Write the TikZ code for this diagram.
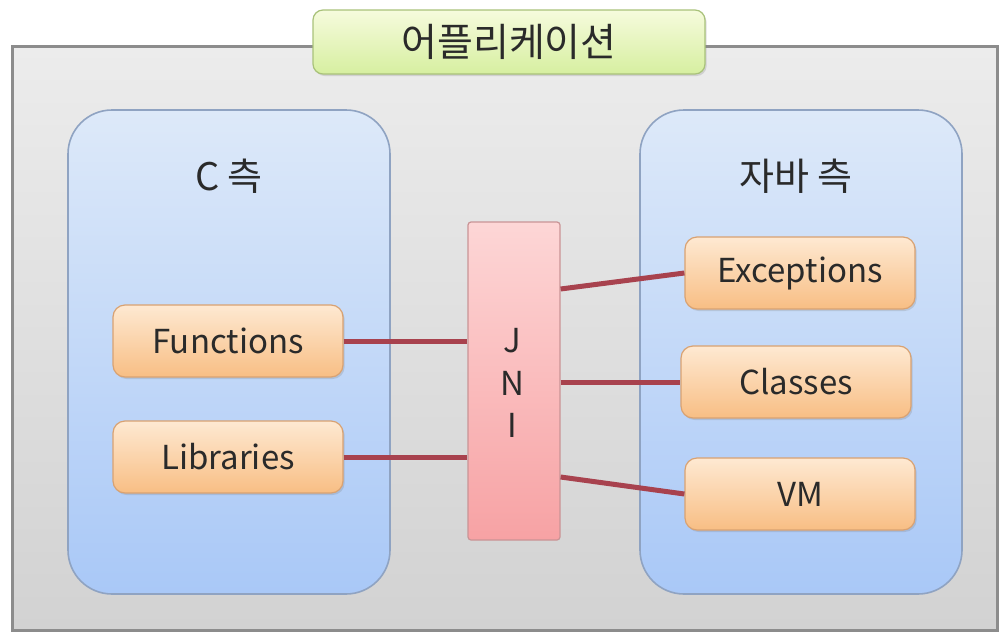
\documentclass[tikz,border=0pt]{standalone}
\usepackage{fontspec}
\setmainfont{Noto Sans CJK KR}
\usetikzlibrary{shadows,calc}
\definecolor{outerline}{HTML}{8C8C8C}
\definecolor{outertop}{HTML}{ECECEC}
\definecolor{outerbot}{HTML}{D2D2D2}
\definecolor{bluetop}{HTML}{DDE9F9}
\definecolor{bluebot}{HTML}{A9C8F7}
\definecolor{blueline}{HTML}{8FA3C2}
\definecolor{orgtop}{HTML}{FEE9D2}
\definecolor{orgbot}{HTML}{F8BE84}
\definecolor{orgline}{HTML}{D9A272}
\definecolor{pinktop}{HTML}{FDD6D6}
\definecolor{pinkbot}{HTML}{F7A2A4}
\definecolor{pinkline}{HTML}{C99496}
\definecolor{greentop}{HTML}{F6FBDD}
\definecolor{greenbot}{HTML}{D6EFA0}
\definecolor{greenline}{HTML}{A9C27A}
\definecolor{linkred}{HTML}{A8424E}
\definecolor{txt}{HTML}{2A2A2A}
\tikzset{
  outerbox/.style={draw=outerline, line width=1.5pt, top color=outertop, bottom color=outerbot},
  sidebox/.style={draw=blueline, line width=0.8pt, rounded corners=22pt, top color=bluetop, bottom color=bluebot, minimum width=161pt, minimum height=242pt, inner sep=0pt},
  itembox/.style={draw=orgline, line width=0.6pt, rounded corners=6pt, top color=orgtop, bottom color=orgbot, minimum width=115pt, minimum height=36pt, font=\fontsize{16.5}{18}\selectfont, text=txt, drop shadow={shadow xshift=0.8pt, shadow yshift=-1pt, opacity=0.25}},
  jnibox/.style={draw=pinkline, line width=0.6pt, rounded corners=1.5pt, top color=pinktop, bottom color=pinkbot, minimum width=46pt, minimum height=159pt},
  titlebox/.style={draw=greenline, line width=0.6pt, rounded corners=5pt, top color=greentop, bottom color=greenbot, minimum width=196pt, minimum height=32pt, font=\fontsize{19.5}{21}\selectfont, text=txt, drop shadow={shadow xshift=0.8pt, shadow yshift=-1pt, opacity=0.25}},
  sidelabel/.style={font=\fontsize{19}{21}\selectfont, text=txt},
  jnilabel/.style={font=\fontsize{16.5}{18}\selectfont, text=txt},
  link/.style={draw=linkred, line width=2.5pt}
}
\begin{document}
\begin{tikzpicture}[x=0.5pt,y=-0.5pt]
\useasboundingbox (0,0) rectangle (1000,637);
\fill[white] (0,0) rectangle (1000,637);
\path[outerbox] (12,46) rectangle (997,630);
\node[titlebox] (title) at (509,42) {어플리케이션};
\node[sidebox] (cside) at (229,352) {};
\node[sidebox] (jside) at (801,352) {};
\node[sidelabel] (clabel) at (229,176) {C 측};
\node[sidelabel] (jlabel) at (796,176) {자바 측};
\node[jnibox] (jni) at (514,381) {};
\node[jnilabel] (jj) at (512,341) {J};
\node[jnilabel] (jn) at (512,383) {N};
\node[jnilabel] (ji) at (512,425) {I};
\node[itembox] (func) at (228,341) {Functions};
\node[itembox] (lib) at (228,457) {Libraries};
\node[itembox] (exc) at (800,273) {Exceptions};
\node[itembox] (cls) at (796,382) {Classes};
\node[itembox] (vm) at (800,494) {VM};
\coordinate (jf) at (jni.west |- func);
\coordinate (jl) at (jni.west |- lib);
\coordinate (je) at ($(jni.east)+(0,-92)$);
\coordinate (jc) at (jni.east |- cls);
\coordinate (jv) at ($(jni.east)+(0,96)$);
\draw[link] (func.east) -- (jf);
\draw[link] (lib.east) -- (jl);
\draw[link] (je) -- (exc.west);
\draw[link] (jc) -- (cls.west);
\draw[link] (jv) -- (vm.west);
\end{tikzpicture}
\end{document}
